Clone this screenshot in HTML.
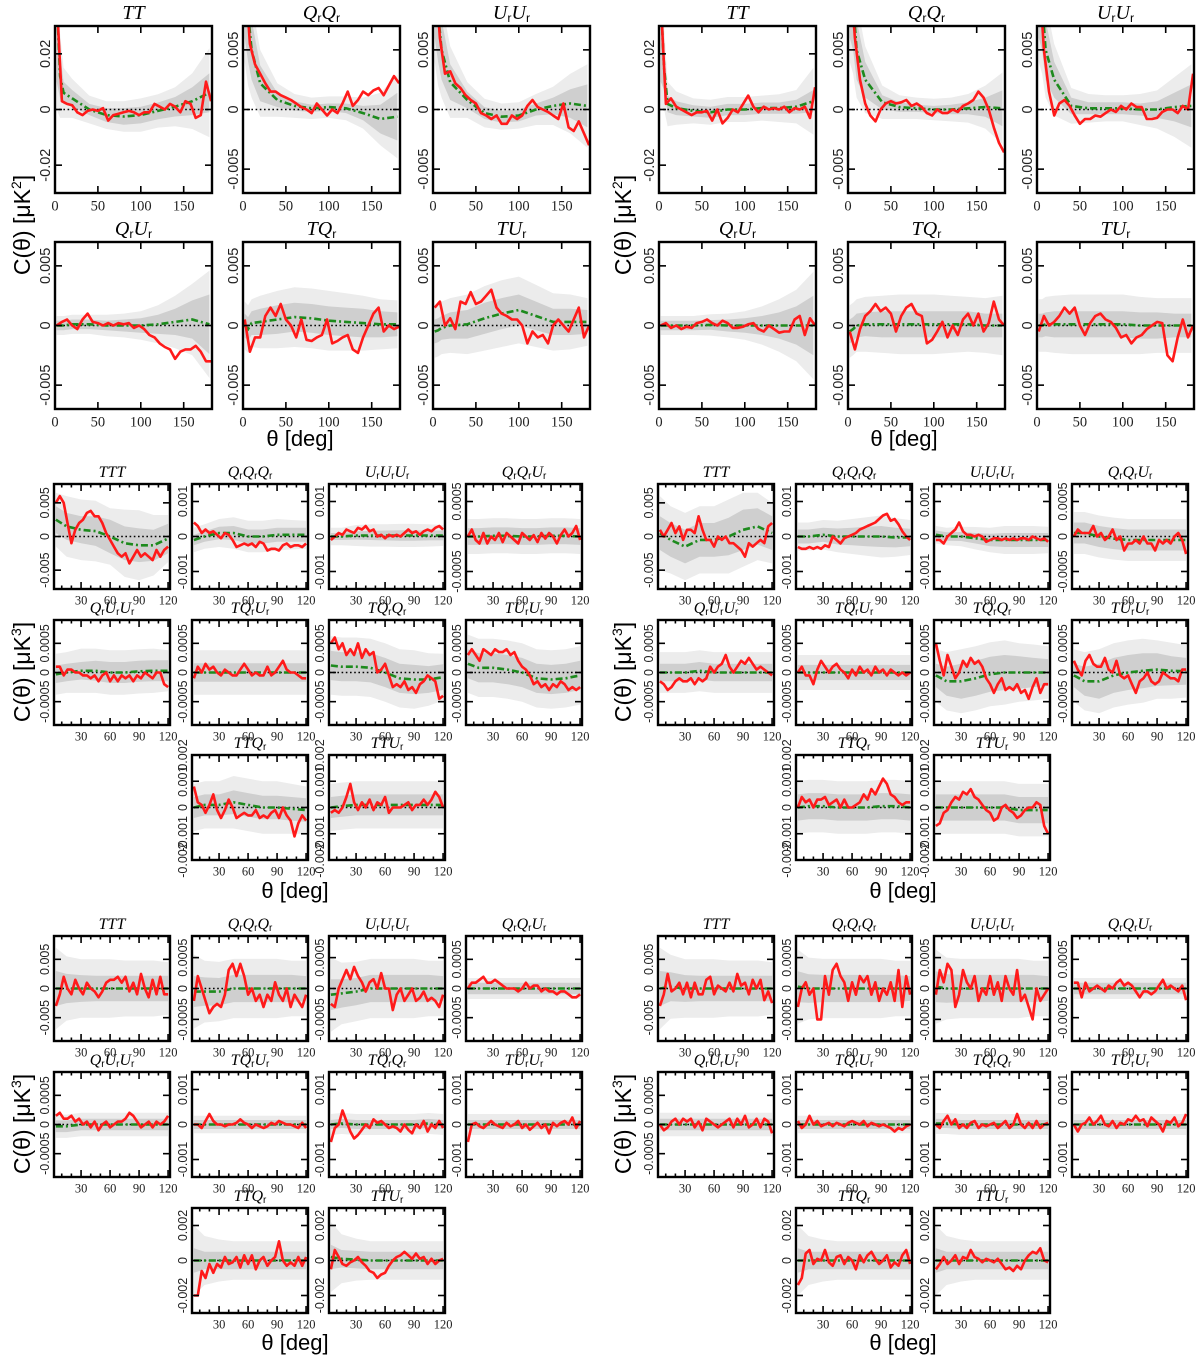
<!DOCTYPE html>
<html><head><meta charset="utf-8"><title>C(theta) correlation panels</title>
<style>
html,body{margin:0;padding:0;background:#fff;}
svg{display:block;}
</style></head>
<body>
<svg id="fig" width="1200" height="1362" viewBox="0 0 1200 1362" xmlns="http://www.w3.org/2000/svg">
<defs id="defs"></defs>
<text x="0" y="0" transform="translate(30,225) rotate(-90)" text-anchor="middle" font-family="Liberation Sans, sans-serif" font-size="23">C(θ) [μK<tspan font-size="14" dy="-9">2</tspan><tspan dy="9">]</tspan></text>
<text x="0" y="0" transform="translate(631,225) rotate(-90)" text-anchor="middle" font-family="Liberation Sans, sans-serif" font-size="23">C(θ) [μK<tspan font-size="14" dy="-9">2</tspan><tspan dy="9">]</tspan></text>
<text x="0" y="0" transform="translate(30,672) rotate(-90)" text-anchor="middle" font-family="Liberation Sans, sans-serif" font-size="23">C(θ) [μK<tspan font-size="14" dy="-9">3</tspan><tspan dy="9">]</tspan></text>
<text x="0" y="0" transform="translate(631,672) rotate(-90)" text-anchor="middle" font-family="Liberation Sans, sans-serif" font-size="23">C(θ) [μK<tspan font-size="14" dy="-9">3</tspan><tspan dy="9">]</tspan></text>
<text x="0" y="0" transform="translate(30,1124) rotate(-90)" text-anchor="middle" font-family="Liberation Sans, sans-serif" font-size="23">C(θ) [μK<tspan font-size="14" dy="-9">3</tspan><tspan dy="9">]</tspan></text>
<text x="0" y="0" transform="translate(631,1124) rotate(-90)" text-anchor="middle" font-family="Liberation Sans, sans-serif" font-size="23">C(θ) [μK<tspan font-size="14" dy="-9">3</tspan><tspan dy="9">]</tspan></text>
<text x="300" y="446" text-anchor="middle" font-family="Liberation Sans, sans-serif" font-size="22">θ [deg]</text>
<text x="904" y="446" text-anchor="middle" font-family="Liberation Sans, sans-serif" font-size="22">θ [deg]</text>
<text x="295" y="898" text-anchor="middle" font-family="Liberation Sans, sans-serif" font-size="22">θ [deg]</text>
<text x="903" y="898" text-anchor="middle" font-family="Liberation Sans, sans-serif" font-size="22">θ [deg]</text>
<text x="295" y="1350" text-anchor="middle" font-family="Liberation Sans, sans-serif" font-size="22">θ [deg]</text>
<text x="903" y="1350" text-anchor="middle" font-family="Liberation Sans, sans-serif" font-size="22">θ [deg]</text>
</svg>
<script>
// ---- angle grids (degrees) ----
const thetaTop = [2,8,14,20,26,32,38,44,50,56,62,68,74,80,86,92,98,104,110,116,122,128,134,140,146,152,158,164,170,176,182];
const thetaTopC = [2,6,10,20,40,60,80,100,120,140,160,180];
const thetaMid = [4,8,12,16,20,24,28,32,36,40,44,48,52,56,60,64,68,72,76,80,84,88,92,96,100,104,108,112,116,120];
const thetaMidC = [4,15,30,45,60,75,90,105,120];

// ---- TOP LEFT (units 1e-3) ----
const TL_TT_r = [40,3,2,1.5,-1,-2,-0.5,0,-0.5,0.5,-4,-2,-1.5,-1,-0.5,-1,-2,-1,-1,2,1,0,2,1,-1,3,2,-3,-2,10,3];
const TL_TT_g = [40,12,6,4,0,-2,-2.5,-2,-0.5,1,3,6];
const TL_TT_s1 = [30,8,4,3,2,2.5,3,3,3,3.5,5,7];
const TL_TT_s2 = [40,15,9,7,5,5,5.5,6,6,7,10,16];
const TL_QQ_r = [12,5.5,3.8,3,2.2,1.5,1.5,1.2,1,0.8,0.5,0.2,0,-0.3,0.5,0,-0.5,0,-0.3,0.5,1.5,0.3,0.8,1.5,1.2,1.6,1.8,1.2,2,2.8,2.2];
const TL_QQ_g = [12,8,5,2.2,0.8,0.3,0.1,0.2,0.1,-0.3,-0.8,-0.6];
const TL_QQ_s1 = [6,4,2.5,1.5,0.6,0.4,0.3,0.3,0.4,0.6,1.2,2];
const TL_QQ_s2 = [8,6,4,2.8,1.4,1,0.9,0.9,1,1.3,2.2,3.5];
const TL_UU_r = [12,6,3,3.2,2.2,1.8,1.2,0.8,0.5,-0.3,-0.5,-0.8,-0.5,-1.2,-1.2,-0.5,-0.8,-0.5,0.3,0.8,0.2,0,-0.2,-0.5,-0.8,0.5,-1.5,-1.8,-1,-2,-3];
const TL_UU_g = [12,8,5,2.3,0.8,-0.3,-0.6,-0.5,0,0.3,0.5,0.3];
const TL_UU_s1 = [6,4,2.5,1.5,0.7,0.5,0.5,0.5,0.5,0.7,1.2,1.8];
const TL_UU_s2 = [8,6,4,3,1.5,1.2,1.1,1.1,1.3,1.6,2.5,3.5];
const TL_QU_r = [0,0.3,0.5,0,-0.3,0.5,1,0.3,0.2,0,0.2,0,0.2,0.1,0.2,-0.2,0,-0.3,-0.8,-1,-1.5,-1.8,-2,-2.8,-2.2,-2,-2,-1.7,-2.2,-3,-3];
const TL_QU_g = [0,0,0,0.1,0.1,0,0,0,0.1,0.3,0.5,0.1];
const TL_QU_s1 = [0.4,0.4,0.4,0.4,0.4,0.4,0.5,0.6,0.8,1.1,1.6,2.5];
const TL_QU_s2 = [0.8,0.8,0.8,0.8,0.8,0.9,1,1.2,1.6,2.2,3,4.5];
const TL_TQ_r = [0.5,-2.2,-1,-1,0.8,1.5,0.8,1.8,0.5,0,-1,0.5,-1.2,-1.3,-1,-0.8,0.5,-1.5,-1.3,-1,-0.8,-2,-2.3,-1,0,1,1.5,-0.5,0,-0.3,-0.1];
const TL_TQ_g = [0,-0.3,0.2,0.3,0.5,0.7,0.6,0.4,0.3,0.2,0.1,0.1];
const TL_TQ_s1 = [1,1,1,1.1,1.2,1.2,1.2,1.2,1.2,1.2,1.1,1];
const TL_TQ_s2 = [2,2,2,2.2,2.4,2.5,2.5,2.5,2.4,2.3,2.1,2];
const TL_TU_r = [1.5,2,0,0.6,-0.3,2,1.8,2.8,1.8,2,2.5,3,1.5,1,0.8,0.5,0.5,0,-1.5,-0.5,-1,-0.8,-1.5,0,0.5,0,-0.5,0.5,1.5,-1,0];
const TL_TU_g = [-0.5,-0.4,-0.2,0,0.1,0.6,1,1.3,0.8,0.3,0.3,0.3];
const TL_TU_s1 = [1,1,1,1.1,1.2,1.3,1.3,1.3,1.2,1.1,1.1,1];
const TL_TU_s2 = [2.2,2.2,2.2,2.3,2.5,2.7,2.8,2.8,2.6,2.4,2.3,2];

// ---- TOP RIGHT (units 1e-3) ----
const TR_TT_r = [40,2,4,1,0,-1,-2,-1,-1,-0.5,-4,0,-5,-3,0,-1,2,5,1,-1,1,0,0.5,0,1,-1,0.5,0,1,-3,8];
const TR_TT_g = [40,15,2,0.5,-0.5,-1,0,0,0.5,0.5,1,3];
const TR_TT_s1 = [30,8,3,2.5,2,2,2,2,2,2,2.5,4];
const TR_TT_s2 = [40,15,8,6,4.5,4.5,4.5,4.5,4.5,5,6,12];
const TR_QQ_r = [12,6,2.5,0.5,-0.5,-1,0,0.5,0.7,0.5,0.6,0.8,0.3,0.5,0.2,-0.3,-0.5,0,-0.3,-0.3,0,-0.2,0.3,0.5,0.8,1.5,1,0,-1.5,-2.8,-3.6];
const TR_QQ_g = [12,9,5,2.5,0.6,0.2,0.1,0,0,0.1,0.2,0.1];
const TR_QQ_s1 = [6,4,2.5,1.5,0.6,0.4,0.3,0.3,0.4,0.5,0.8,1.5];
const TR_QQ_s2 = [8,6,4,2.8,1.4,1,0.9,0.9,1,1.2,1.8,3];
const TR_UU_r = [12,5,1.5,-0.5,0.5,0.8,0.3,-0.5,-1.2,-0.8,-0.8,-0.5,-0.6,-0.3,0,-0.2,0.3,0,0.5,0.2,0.2,-0.8,-0.8,-0.7,-0.2,0,0,-0.3,0.3,0,3];
const TR_UU_g = [12,9,5,2.5,0.3,0.1,0.1,0.1,0,0,0.2,0.3];
const TR_UU_s1 = [6,4,2.5,1.5,0.7,0.5,0.5,0.5,0.5,0.7,1.2,1.8];
const TR_UU_s2 = [8,6,4,3,1.5,1.2,1.1,1.1,1.3,1.6,2.5,3.5];
const TR_QU_r = [0,0.2,-0.2,0,-0.3,-0.1,-0.2,0.2,0.3,0.5,0.2,0,0.4,0.2,-0.2,-0.2,-0.1,0.1,0.2,-0.3,-0.5,0,-0.3,-0.6,-0.5,-0.5,0.5,0.8,-0.8,0.6,0];
const TR_QU_g = [0,0,0,0,0,0.05,0,0,0,0,0,0];
const TR_QU_s1 = [0.4,0.4,0.4,0.4,0.4,0.4,0.5,0.6,0.8,1.1,1.6,2.5];
const TR_QU_s2 = [0.8,0.8,0.8,0.8,0.8,0.9,1,1.2,1.6,2.2,3,4.5];
const TR_TQ_r = [-0.5,-2,-0.3,0.8,1.2,1.8,1.2,1.5,1,-0.5,0.8,1.5,1.8,1,0.8,-1.5,-1.2,-0.5,0.3,-1,0,-0.8,0.5,1,0,1,-0.5,0.2,2,0.5,0];
const TR_TQ_g = [-0.5,-0.3,0,0.1,0.1,0.1,0.1,0.1,0.1,0.1,0,0];
const TR_TQ_s1 = [1,1,1,1,1.1,1.1,1.1,1.1,1.1,1.1,1,1];
const TR_TQ_s2 = [2.2,2.2,2.2,2.3,2.4,2.5,2.5,2.5,2.4,2.3,2.3,2.5];
const TR_TU_r = [-0.5,0.8,0,0.3,0.8,1.5,1,1.5,0,-0.8,0.2,0.8,1,0.5,0.3,-0.2,-1,-0.8,-1.5,-1,-0.8,-0.3,0,0.3,0.2,-2.5,-3,-1,0.5,-1,0];
const TR_TU_g = [0,0,0.1,0.1,0.1,0.1,0.1,0.1,0,0,0,0];
const TR_TU_s1 = [1,1,1,1.1,1.1,1.1,1.1,1.1,1.1,1.1,1,1];
const TR_TU_s2 = [2.2,2.2,2.3,2.4,2.5,2.5,2.5,2.5,2.4,2.3,2.3,2.3];

// ---- MIDDLE LEFT (TTT units 1e-3; others 1e-4) ----
const ML_TTT_r = [5,6,5,2,-1,1,2,2.5,3.5,3.8,3,3,2,0.5,-0.5,-1.5,-2.5,-3,-2.5,-4,-3,-2,-3,-2.5,-3,-3.5,-2,-3,-2,-1.5];
const ML_TTT_g = [2.5,1.5,1,0.8,0,-1,-1.3,-1.3,-0.3];
const ML_TTT_s1 = [2,2,2,2.2,2.5,2.5,2.5,2.3,2.2];
const ML_TTT_s2 = [4,4.5,4.5,4.5,4.2,5,5.2,4.5,3.5];
const ML_QQQ_r = [4,3,1,2,1,1.5,0.5,-0.5,1,0.5,-1,-3,-2.5,-2,-2.5,-2,-3,-1.5,-2,-4,-3.5,-3.5,-4,-2.5,-2,-3,-2.5,-2.5,-3,-2];
const ML_QQQ_g = [-1,0,1,1,0,0,0.5,0.5,0.5];
const ML_QQQ_s1 = [1.5,1.5,1.8,2,2,2,2,2,2];
const ML_QQQ_s2 = [3.5,3.5,4,4.5,4.5,4.5,4.5,4.2,4];
const ML_UUU_r = [-1,0,1,0.5,2,1.5,1,2.5,2,3,1.5,2,0,0.5,-0.5,0.5,0,0.5,0,1,2,1,1.5,0.5,1.5,2,1.5,2.5,3,2];
const ML_UUU_g = [0,0,0.3,0.3,0.3,0.3,0.3,0.3,0.3];
const ML_UUU_s1 = [1,1,1.2,1.3,1.4,1.5,1.5,1.4,1.4];
const ML_UUU_s2 = [2.5,2.5,3,3.2,3.2,3.3,3.3,3.2,3];
const ML_QQU_r = [0,1,-0.5,-1,0.5,-1,0,-0.5,0.5,-0.8,0.5,0,-0.5,-1,0.5,0,-0.5,0.2,-0.8,0.5,-0.3,0.5,0,-1,0.2,1,0,0.5,1.5,-0.5];
const ML_QQU_g = [0,0,0.1,0.1,0,0,0.1,0.1,0];
const ML_QQU_s1 = [1.2,1.2,1.2,1.2,1.2,1.2,1.2,1.2,1.2];
const ML_QQU_s2 = [2.5,2.5,2.5,2.5,2.5,2.5,2.5,2.5,2.5];
const ML_QUU_r = [1,1,-0.5,0.5,0.5,0,0,-0.5,-0.5,-1,-0.5,-1.5,-0.5,0,-1.5,-0.5,-1.5,-0.5,-1,-0.5,-1.5,-0.5,-1,0,-0.5,-1,0,0,-2,-2.5];
const ML_QUU_g = [-0.3,0,0.3,0.3,0,0,0.2,0.3,0.3];
const ML_QUU_s1 = [1.5,1.5,1.5,1.7,1.8,1.8,1.8,1.8,1.8];
const ML_QUU_s2 = [3.5,3.5,3.8,3.8,3.8,3.8,3.8,3.8,3.5];
const ML_TQU_r = [-1,1,0,1.5,0.5,1,0,-0.5,0.5,0,-0.5,-0.5,0.5,1.5,0.5,-0.5,0,-0.5,-0.5,1,-0.5,0,1,2,0.5,0,0,-0.5,-1,-1];
const ML_TQU_g = [0,0,0,0,0,0,0,0,0];
const ML_TQU_s1 = [1.6,1.6,1.6,1.6,1.6,1.6,1.6,1.6,1.6];
const ML_TQU_s2 = [3.8,3.8,3.8,3.8,3.8,3.8,3.8,3.8,3.8];
const ML_TQQ_r = [5,6,4,5,3,4,3,5,2.5,4,3,3.5,0,0.5,1.5,-0.5,-2.5,-2,-2.5,-1.5,-3,-2.5,-3.5,-2,-1.5,-0.5,-1,-1.5,-4.5,-4];
const ML_TQQ_g = [1.2,1,1,0.8,0,-1,-1.2,-1.2,-0.8];
const ML_TQQ_s1 = [2.5,2.5,2.5,2.5,2.5,2.5,2.5,2.3,2.2];
const ML_TQQ_s2 = [5,5,5,5,5,5,5,4.5,4];
const ML_TUU_r = [3,4,3,2,4,3.5,3,4,3.5,3.5,4,3,3.5,2,1,0.5,-0.5,-2,-1.5,-2.5,-2,-3,-2,-2.5,-1.5,-2,-3,-2.5,-3,-2.5];
const ML_TUU_g = [1.5,0.8,0.8,0.5,0,-1,-1.2,-1,-0.5];
const ML_TUU_s1 = [2.5,2.5,2.5,2.5,2.5,2.5,2.5,2.5,2.5];
const ML_TUU_s2 = [5,5,5,5,5,5,5,5,5];
const ML_TTQ_r = [8,2,1,-2,1,5,-1,-4,-1,3,0,-4,-3,-2,-3,-3,-1,-4,-3,-4,-2,-1,-4,0,-3,-5,-11,-6,-3,-5];
const ML_TTQ_g = [0,1,1,2,1,0,0,-0.5,-1];
const ML_TTQ_s1 = [4,4,4,4.5,4.5,4.5,4.5,4.5,4.5];
const ML_TTQ_s2 = [9,9,9,10,10,10,10,9.5,9];
const ML_TTU_r = [-2,-1,-2,0,4,9,2,-1,2,0,3,-1,2,1,4,-2,0,0,0,1,2,-1,1,1,3,1,3,6,4,0];
const ML_TTU_g = [0,0.5,1,1,1,1,1,1,1];
const ML_TTU_s1 = [4,4,4,4,4,4,4,4,4];
const ML_TTU_s2 = [9,9,9,9,9,9,9,9,9];

// ---- MIDDLE RIGHT ----
const MR_TTT_r = [1,0,1,2,0.5,1.5,-0.5,1,1,0.5,3,1,-0.5,-0.5,-1.5,0,-0.5,0,-1,-1,-1.5,-2,-3,-1,-1.5,-1,-0.5,-1,1.5,2];
const MR_TTT_g = [0.5,-0.5,-1.5,-0.5,-0.5,0,1,1.5,0.5];
const MR_TTT_s1 = [2.5,2.5,2.5,2.5,2.5,2.8,3,2.7,2.5];
const MR_TTT_s2 = [5.5,5,5,5,5,5.5,5.5,5,4.5];
const MR_QQQ_r = [-3,-3.5,-3.5,-3,-3.5,-3,-3.5,-2.5,-3,0,-1,-2,-0.5,0,0.5,1,2,2.5,3,3.5,4,5,6,6.5,4.5,5,3.5,1.5,0,-1];
const MR_QQQ_g = [0,0,0.5,0,0,0,0,-0.3,-0.3];
const MR_QQQ_s1 = [2,2,2,2.3,2.5,2.8,3,2.8,2.5];
const MR_QQQ_s2 = [4,4,4.2,4.5,5,5.5,6,5.5,5];
const MR_UUU_r = [-1,-1,-2,0,1,2,4,1.5,0.5,0.5,0,0.5,0,-1.5,-1,-0.5,-0.5,-1,-0.5,-1,-0.5,-1,-0.5,-0.5,-1,0,-0.5,-1,-0.5,-1.5];
const MR_UUU_g = [0.5,0,0,-0.5,-1,-1,-1,-1,-1];
const MR_UUU_s1 = [1.2,1.2,1.3,1.5,1.8,2,2,2,2];
const MR_UUU_s2 = [2.5,2.5,2.8,3.2,3.5,4,4,4,3.8];
const MR_QQU_r = [0,1,0.5,0.5,0.5,1.5,0,0.5,-0.5,0,1,-0.5,0,-2,-1,-1,-0.5,-1,0,-1,-1,-2,-0.5,-1,-0.5,-1,0,0.5,-0.5,-2.5];
const MR_QQU_g = [0.5,0.5,0,-0.3,-0.5,-0.5,-0.5,-0.5,-0.5];
const MR_QQU_s1 = [1.5,1.5,1.5,1.5,1.5,1.5,1.5,1.5,1.5];
const MR_QQU_s2 = [3,3,3,3,3,3,3,3,3];
const MR_QUU_r = [-1.5,-2,-3,-2.5,-1.5,-1,-1.5,-1.5,-1,-2,-1,-1.5,-1,1,0,1,1.5,3,1,0,1,2,1.5,2.5,1.5,0.5,1,0.5,0,-0.5];
const MR_QUU_g = [0,0,0,0.3,0,0,0,0,0];
const MR_QUU_s1 = [1.5,1.5,1.5,1.5,1.5,1.5,1.5,1.5,1.5];
const MR_QUU_s2 = [3.5,3.5,3.5,3.5,3.5,3.5,3.5,3.5,3.5];
const MR_TQU_r = [0,1,-0.5,-0.5,-2,0.5,2,1,0,1,1.5,0.5,0,-1,0.5,-0.5,1,0,0.5,-0.5,1,0,0.5,-0.5,0.5,0,-0.5,0,-0.5,0];
const MR_TQU_g = [0,0,0,0,0,0,0,0,0];
const MR_TQU_s1 = [1.3,1.3,1.3,1.3,1.3,1.3,1.3,1.3,1.3];
const MR_TQU_s2 = [3,3,3,3,3,3,3,3,3];
const MR_TQQ_r = [5,2,-0.5,3,1,-1,0,2,1,2.5,1.5,2,1,-1,-2,-3.5,-2,-1,-3,-2.5,-3,-2,-3.5,-3,-4.5,-2.5,-1,-3.5,-2,-2];
const MR_TQQ_g = [-0.5,-1.5,-1.5,-1,-0.3,0,0,0,0];
const MR_TQQ_s1 = [2,2.5,3,3,3,3,2.8,2.5,2.3];
const MR_TQQ_s2 = [4.5,5,5.5,5.5,5.5,5.5,5,4.8,4.5];
const MR_TUU_r = [2,0.5,-0.5,2,3,1.5,1,1,2.5,0.5,0,2,-0.5,-1,-0.5,-2,-3.5,-1.5,-1,0,-1.5,-2,-1.5,0,-0.5,-1,-1,-1.5,0.5,0.5];
const MR_TUU_g = [-0.5,-1.5,-1.5,-0.5,0,0.3,0.5,0.3,0.2];
const MR_TUU_s1 = [2,2.5,3,3,3,3,2.8,2.5,2.3];
const MR_TUU_s2 = [4.5,5,5.5,5.5,5.5,5.5,5,4.8,4.5];
const MR_TTQ_r = [0,4,2,3,0,3,3,4,1,2,3,0,3,0,0,1,2,5,3,7,5,8,11,9,5,4,2,1,2,2];
const MR_TTQ_g = [0,0.5,0.5,0,0,0,0.5,0.5,0];
const MR_TTQ_s1 = [5,5,5,5,5,5,5,5,5];
const MR_TTQ_s2 = [10,10,10,10,10,10,10,10,10];
const MR_TTU_r = [-7,-6,-2,-1,2,4,3,6,5,7,4,3,1,-1,-2,-5,-4,0,1,-1,-2,-4,-3,-1,0,0,2,1,-7,-10];
const MR_TTU_g = [0,0,0,0,0,0,-1,-1,-1];
const MR_TTU_s1 = [5,5,5,5,5,5,5,5,5];
const MR_TTU_s2 = [10,10,10,10,10,10,10,10,10];

// ---- BOTTOM LEFT ----
const BL_TTT_r = [-3,-1,2,0,-1,1.5,0,-1,1,0,-0.5,-1.5,-0.5,1,1.5,1.5,2,1,2,-0.5,1,-1,2.5,0,-1.5,1.5,-1,2,-1,-1];
const BL_TTT_g = [0,0,0,0,0,0,0,0,0];
const BL_TTT_s1 = [3,2.5,2.3,2.2,2.2,2.2,2.2,2.2,2.2];
const BL_TTT_s2 = [7,5.5,5,5,5,4.8,4.8,4.8,4.5];
const BL_QQQ_r = [-2,2,0,-2,-4,-3,-2.5,-3,-1,3,4,2,4,2,-1,0,-2,-1,-3,-1,-2,1,-1,-2,0,-3,-1,-2,-3,-1];
const BL_QQQ_g = [-0.5,-0.5,-0.5,0,0,0,0,0,0];
const BL_QQQ_s1 = [2.5,2.3,2.2,2.2,2.2,2.2,2.2,2.2,2];
const BL_QQQ_s2 = [6,5,4.8,4.8,4.8,4.8,4.8,4.5,4.5];
const BL_UUU_r = [-2.5,-3,0,1.5,3,1.5,3.5,2,1,-0.5,1,1.5,0,2.5,0,0,-3.5,-1,0,-2,-1,0,-2,-1.5,-0.5,-2,-1.5,-2,-3,-1];
const BL_UUU_g = [-1,-0.8,-0.5,0,0,0,0,0,0];
const BL_UUU_s1 = [2.5,2.3,2.2,2.2,2.2,2.2,2.2,2.2,2];
const BL_UUU_s2 = [6,5,4.8,4.8,4.8,4.8,4.8,4.5,4.5];
const BL_QQU_r = [0,1,1,1.5,2,1,1,1.5,1,0.5,0,0,0,-0.5,0,1,0,0.5,0.5,-0.5,0,-0.5,-0.5,-1,-0.5,-0.5,-1,-1.5,-1.5,-1];
const BL_QQU_g = [0,0,0,0,0,0,0,0,0];
const BL_QQU_s1 = [1,1,1,1,1,1,1,1,1];
const BL_QQU_s2 = [1.8,1.8,1.8,1.8,1.8,1.8,1.8,1.8,1.8];
const BL_QUU_r = [1.5,2,1,1,1.5,0.5,1,0,0.5,-0.5,0.5,-1,0,0.5,-0.5,0,0.5,0.5,1,2,1.5,0.5,-0.5,0,0.5,-0.5,0.5,0,0.5,1.5];
const BL_QUU_g = [-0.3,-0.3,0,0,0,0,0,0,0];
const BL_QUU_s1 = [1,1,1,1,1,1,1,1,1];
const BL_QUU_s2 = [2,2,2,2,2,2,2,2,2];
const BL_TQU_r = [0,0,-1,1,3,1,0,0,-0.5,0,0,0.5,1.5,0.5,0,-1,0,-0.5,-1,-0.5,0.5,0,1,0.5,0,0,-0.5,-1,0.5,-1];
const BL_TQU_g = [0,0,0,0,0,0,0,0,0];
const BL_TQU_s1 = [1.3,1.3,1.3,1.3,1.3,1.3,1.3,1.3,1.3];
const BL_TQU_s2 = [2.5,2.5,2.5,2.5,2.5,2.5,2.5,2.5,2.5];
const BL_TQQ_r = [-5,-1,0,4,1,-2,-4,-3,-1.5,0,-1,1.5,0.5,1,0,-1,-0.5,-1,-2,0,-1.5,-2.5,0,-1,1,-2,0,-1,1,-1];
const BL_TQQ_g = [0,0.3,0,0,0,0,0,0.3,0];
const BL_TQQ_s1 = [1.3,1.3,1.3,1.3,1.3,1.3,1.3,1.3,1.3];
const BL_TQQ_s2 = [3,3,3,3,3,3,3,3,3];
const BL_TUU_r = [-5,0,0.5,-0.5,-1,0,1,0,-0.5,-1,0.5,-0.5,0,1,-1,0,-1.5,-0.5,0.5,-1,0,-2.5,0.5,-0.5,0.5,1,0,2,-1,1];
const BL_TUU_g = [0,0,0,0,0,0,0,0,0];
const BL_TUU_s1 = [1.3,1.3,1.3,1.3,1.3,1.3,1.3,1.3,1.3];
const BL_TUU_s2 = [3,3,3,3,3,3,3,3,3];
const BL_TTQ_r = [-20,-20,-6,-10,-2,-7,-2,-4,2,-2,-1,2,-4,3,-2,3,-5,0,2,-3,0,2,11,0,-3,-1,-3,2,-3,2];
const BL_TTQ_g = [0,0,0,0,0,0,0,0,0];
const BL_TTQ_s1 = [7,5,5,5,5,5,5,5,5];
const BL_TTQ_s2 = [20,14,12,11,11,11,11,11,11];
const BL_TTU_r = [-5,6,2,-2,-3,-1,0,2,-1,-3,-6,-7,-10,-8,-7,-3,0,2,3,5,3,1,4,1,2,-2,1,-2,0,1];
const BL_TTU_g = [2,1,0.5,0,0,0,0,0,0];
const BL_TTU_s1 = [7,5,5,5,5,5,5,5,5];
const BL_TTU_s2 = [20,14,12,11,11,11,11,11,11];

// ---- BOTTOM RIGHT ----
const BR_TTT_r = [-3,-1,2.5,-0.5,0,1,-1,1,-1.5,1,-1,-1,1.5,2,-1,0.5,0,-0.5,1,-0.5,2.5,0.5,1,-1,1.5,0,1.5,-2,-0.5,-2.5];
const BR_TTT_g = [0,0.3,0,0,0,0,0,0,0];
const BR_TTT_s1 = [3,2.5,2.3,2.2,2.2,2.2,2.2,2.2,2.2];
const BR_TTT_s2 = [7,5.5,5,5,5,4.8,4.8,4.8,4.5];
const BR_QQQ_r = [-3,0,1,-1,0,-5,-5,2,-1,3,4,2,1,-2,1,-1,2,1,2,-1,1,-2,0,-1,1,-2,3,-3,2,-1];
const BR_QQQ_g = [0.3,0,0,0,0,0,0,0,0];
const BR_QQQ_s1 = [2.5,2.3,2.2,2.2,2.2,2.2,2.2,2.2,2];
const BR_QQQ_s2 = [6,5,4.8,4.8,4.8,4.8,4.8,4.5,4.5];
const BR_UUU_r = [-1,3,1,4,3,-3,-1,3,1,0,2,-2,0,-1,2,-1,1,-2,2,0,-1,3,-2,-1,-3,-5,0,-2,-1,0];
const BR_UUU_g = [0.3,0,0,0,0,0,0,0,0];
const BR_UUU_s1 = [2.5,2.3,2.2,2.2,2.2,2.2,2.2,2.2,2];
const BR_UUU_s2 = [6,5,4.8,4.8,4.8,4.8,4.8,4.5,4.5];
const BR_QQU_r = [1,1,-1.5,1,-0.5,0,0.5,0,-0.5,0.5,0,1,1.5,0.5,1,0.5,-0.5,-1.5,-0.5,-0.5,-1,-0.5,0.5,1.5,0,0.5,0,-0.5,0.5,-2];
const BR_QQU_g = [0,0,0,0,0,0,0,0,0];
const BR_QQU_s1 = [1,1,1,1,1,1,1,1,1];
const BR_QQU_s2 = [1.8,1.8,1.8,1.8,1.8,1.8,1.8,1.8,1.8];
const BR_QUU_r = [0,-1,-0.5,0.5,1,0,1,0.5,1,-0.5,0.5,-1,1,0.5,0,-0.5,0,0.5,1,-0.5,1,0,1.5,-0.5,0,1,-0.5,1,0.5,-1.5];
const BR_QUU_g = [0,0,0,0,0,0,0,0,0];
const BR_QUU_s1 = [1,1,1,1,1,1,1,1,1];
const BR_QUU_s2 = [2,2,2,2,2,2,2,2,2];
const BR_TQU_r = [1,-1,0,2.5,0,1,-0.5,0,0.5,-0.5,0.5,0,-0.5,0.5,1,0.5,0,1,-0.5,0.5,0,-0.5,0,-0.5,-1,-2,-1,-1.5,-0.5,0];
const BR_TQU_g = [0,0,0,0,0,0,0,0,0];
const BR_TQU_s1 = [1.3,1.3,1.3,1.3,1.3,1.3,1.3,1.3,1.3];
const BR_TQU_s2 = [2.5,2.5,2.5,2.5,2.5,2.5,2.5,2.5,2.5];
const BR_TQQ_r = [0,-1,1,2.5,0,1.5,-1,0,-1,0.5,1,-1,0,-0.5,0,0.5,-1,0,1,-1,0,3,0,-1,0.5,-1,1,-1,0,0.5];
const BR_TQQ_g = [0.3,0.3,0,0,0,0,0,0,0];
const BR_TQQ_s1 = [1.3,1.3,1.3,1.3,1.3,1.3,1.3,1.3,1.3];
const BR_TQQ_s2 = [3,3,3,3,3,3,3,3,3];
const BR_TUU_r = [0,-2,0,0.5,2,0,1,2.5,0,-0.5,1,-1,0.5,0,1.5,1,2.5,1,1.5,-0.5,2,1,0,-2,1,0.5,2,-0.5,0.5,3];
const BR_TUU_g = [0,0,0,0,0,0,0,0,0];
const BR_TUU_s1 = [1.3,1.3,1.3,1.3,1.3,1.3,1.3,1.3,1.3];
const BR_TUU_s2 = [3,3,3,3,3,3,3,3,3];
const BR_TTQ_r = [-14,-10,4,6,-2,1,0,6,-1,-3,2,3,-2,2,0,-5,3,-1,3,5,1,-2,0,3,-4,-1,-3,3,6,-2];
const BR_TTQ_g = [0,0,0,0,0,0,0,0,0];
const BR_TTQ_s1 = [7,5,5,5,5,5,5,5,5];
const BR_TTQ_s2 = [20,14,12,11,11,11,11,11,11];
const BR_TTU_r = [-5,-2,2,-2,0,3,-2,2,1,6,2,1,-1,1,0,-1,1,-2,-5,-4,-6,-3,-5,0,3,5,4,7,0,-1];
const BR_TTU_g = [0,0,0,0,0,0,0,0,0];
const BR_TTU_s1 = [7,5,5,5,5,5,5,5,5];
const BR_TTU_s2 = [20,14,12,11,11,11,11,11,11];

// ---- axis kinds ----
const K = {
  top2:{ymax:0.03,ticks:[0.02,0,-0.02],unit:1e-3},
  top7:{ymax:0.007,ticks:[0.005,0,-0.005],unit:1e-3},
  mTTT:{ymax:0.0078,ticks:[0.005,0,-0.005],unit:1e-3},
  m15:{ymax:0.0015,ticks:[0.001,0,-0.001],unit:1e-4},
  m75:{ymax:0.00075,ticks:[0.0005,0,-0.0005],unit:1e-4},
  m9:{ymax:0.0009,ticks:[0.0005,0,-0.0005],unit:1e-4},
  m20:{ymax:0.002,ticks:[0.002,0.001,0,-0.001,-0.002],unit:1e-4},
  bTTT:{ymax:0.009,ticks:[0.005,0,-0.005],unit:1e-3},
  b85:{ymax:0.00085,ticks:[0.0005,0,-0.0005],unit:1e-4},
  b15:{ymax:0.0015,ticks:[0.001,0,-0.001],unit:1e-4},
  b30:{ymax:0.003,ticks:[0.002,0,-0.002],unit:1e-4}
};

const NS='http://www.w3.org/2000/svg';
const svg=document.getElementById('fig');
const defs=document.getElementById('defs');
function mk(tag,attrs,parent){const e=document.createElementNS(NS,tag);for(const k in attrs)e.setAttribute(k,attrs[k]);(parent||svg).appendChild(e);return e;}

function addTitle(g,str,cx,y,fs){
  const t=mk('text',{x:cx,y:y,'text-anchor':'middle','font-family':'Liberation Serif, serif','font-size':fs},g);
  
  
  for(const ch of str){
    if(ch==='r'){
      const s=mk('tspan',{'font-size':fs*0.62,'baseline-shift':'-22%','font-family':'Liberation Sans, sans-serif'},t);
      s.textContent='r';
    } else {
      const s=mk('tspan',{'font-style':'italic'},t);
      s.textContent=ch;
    }
  }
}

let pid=0;
function panel(p){
  pid++;
  const g=mk('g',{});
  
  
  const k=p.k;
  const X=t=>p.x+(t-p.xd[0])/(p.xd[1]-p.xd[0])*p.w;
  const Y=v=>p.y+(k.ymax-v*k.unit)/(2*k.ymax)*p.h;
  const YR=v=>p.y+(k.ymax-v)/(2*k.ymax)*p.h;
  const cid='clip'+pid;
  const cp=mk('clipPath',{id:cid},defs);
  mk('rect',{x:p.x,y:p.y,width:p.w,height:p.h},cp);
  const inner=mk('g',{'clip-path':'url(#'+cid+')'},g);
  const bandCols=['#ececec','#cfcfcf'];
  [p.s2,p.s1].forEach((s,bi)=>{
    const up=p.thC.map((t,i)=>X(t).toFixed(1)+','+Y(p.gr[i]+s[i]).toFixed(1));
    const lo=p.thC.map((t,i)=>X(t).toFixed(1)+','+Y(p.gr[i]-s[i]).toFixed(1)).reverse();
    const pg=mk('polygon',{points:up.concat(lo).join(' '),fill:bandCols[bi],stroke:'none'},inner);
    
    
  });
  const zl=mk('line',{x1:p.x,x2:p.x+p.w,y1:Y(0),y2:Y(0),stroke:'#000','stroke-width':1.6,'stroke-dasharray':'1.6,2.6'},inner);
  
  
  const gl=mk('polyline',{points:p.thC.map((t,i)=>X(t).toFixed(1)+','+Y(p.gr[i]).toFixed(1)).join(' '),fill:'none',stroke:'#1d8a1d','stroke-width':2.6,'stroke-dasharray':'7,3,2,3'},inner);
  
  
  const rl=mk('polyline',{points:p.th.map((t,i)=>X(t).toFixed(1)+','+Y(p.r[i]).toFixed(1)).join(' '),fill:'none',stroke:'#ff1a1a','stroke-width':2.6,'stroke-linejoin':'round'},inner);
  
  
  const tk=mk('g',{stroke:'#000','stroke-width':1.6},g);
  p.xt.forEach(t=>{const xx=X(t);mk('line',{x1:xx,x2:xx,y1:p.y+p.h,y2:p.y+p.h-7},tk);mk('line',{x1:xx,x2:xx,y1:p.y,y2:p.y+7},tk);});
  (p.xm||[]).forEach(t=>{const xx=X(t);mk('line',{x1:xx,x2:xx,y1:p.y+p.h,y2:p.y+p.h-3.5},tk);mk('line',{x1:xx,x2:xx,y1:p.y,y2:p.y+3.5},tk);});
  k.ticks.forEach(v=>{const yy=YR(v);mk('line',{x1:p.x,x2:p.x+7,y1:yy,y2:yy},tk);mk('line',{x1:p.x+p.w,x2:p.x+p.w-7,y1:yy,y2:yy},tk);});
  const fr=mk('rect',{x:p.x,y:p.y,width:p.w,height:p.h,fill:'none',stroke:'#000','stroke-width':2.4},g);
  
  
  p.xt.forEach(t=>{
    const lb=mk('text',{x:X(t),y:p.y+p.h+p.fs+3,'text-anchor':'middle','font-family':'Liberation Serif, serif','font-size':p.fs,fill:'#222'},g);
    
    
    lb.textContent=String(t);
  });
  k.ticks.forEach(v=>{
    const yy=YR(v), xx=p.x-5;
    const lb=mk('text',{x:xx,y:yy,transform:'rotate(-90 '+xx+' '+yy+')','text-anchor':'middle','font-family':'Liberation Sans, sans-serif','font-size':p.fs,fill:'#222'},g);
    
    
    lb.textContent=String(v);
  });
  addTitle(g,p.title,p.x+p.w/2,p.y-7,p.tfs);
}

const topTitles=[['TT','QrQr','UrUr'],['QrUr','TQr','TUr']];
const topKinds=[['top2','top7','top7'],['top7','top7','top7']];
const TOPDATA={
  L:[[[TL_TT_r,TL_TT_g,TL_TT_s1,TL_TT_s2],[TL_QQ_r,TL_QQ_g,TL_QQ_s1,TL_QQ_s2],[TL_UU_r,TL_UU_g,TL_UU_s1,TL_UU_s2]],
     [[TL_QU_r,TL_QU_g,TL_QU_s1,TL_QU_s2],[TL_TQ_r,TL_TQ_g,TL_TQ_s1,TL_TQ_s2],[TL_TU_r,TL_TU_g,TL_TU_s1,TL_TU_s2]]],
  R:[[[TR_TT_r,TR_TT_g,TR_TT_s1,TR_TT_s2],[TR_QQ_r,TR_QQ_g,TR_QQ_s1,TR_QQ_s2],[TR_UU_r,TR_UU_g,TR_UU_s1,TR_UU_s2]],
     [[TR_QU_r,TR_QU_g,TR_QU_s1,TR_QU_s2],[TR_TQ_r,TR_TQ_g,TR_TQ_s1,TR_TQ_s2],[TR_TU_r,TR_TU_g,TR_TU_s1,TR_TU_s2]]]
};
const topX={L:[55,243,433],R:[659,848,1037]};
const topY=[26,242];
['L','R'].forEach(side=>{
  for(let r=0;r<2;r++)for(let c=0;c<3;c++){
    const d=TOPDATA[side][r][c];
    panel({name:'top-'+side+'-'+topTitles[r][c],x:topX[side][c],y:topY[r],w:157,h:167,xd:[0,183],
      k:K[topKinds[r][c]],th:thetaTop,thC:thetaTopC,r:d[0],gr:d[1],s1:d[2],s2:d[3],
      xt:[0,50,100,150],fs:14.5,tfs:20,title:topTitles[r][c]});
  }
});

const smallTitles=[['TTT','QrQrQr','UrUrUr','QrQrUr'],['QrUrUr','TQrUr','TQrQr','TUrUr'],[null,'TTQr','TTUr',null]];
const midKinds=[['mTTT','m15','m15','m75'],['m9','m9','m9','m9'],[null,'m20','m20',null]];
const botKinds=[['bTTT','b85','b85','m9'],['m9','b15','b15','b15'],[null,'b30','b30',null]];
const SMALLDATA={
  ML:[[[ML_TTT_r,ML_TTT_g,ML_TTT_s1,ML_TTT_s2],[ML_QQQ_r,ML_QQQ_g,ML_QQQ_s1,ML_QQQ_s2],[ML_UUU_r,ML_UUU_g,ML_UUU_s1,ML_UUU_s2],[ML_QQU_r,ML_QQU_g,ML_QQU_s1,ML_QQU_s2]],
      [[ML_QUU_r,ML_QUU_g,ML_QUU_s1,ML_QUU_s2],[ML_TQU_r,ML_TQU_g,ML_TQU_s1,ML_TQU_s2],[ML_TQQ_r,ML_TQQ_g,ML_TQQ_s1,ML_TQQ_s2],[ML_TUU_r,ML_TUU_g,ML_TUU_s1,ML_TUU_s2]],
      [null,[ML_TTQ_r,ML_TTQ_g,ML_TTQ_s1,ML_TTQ_s2],[ML_TTU_r,ML_TTU_g,ML_TTU_s1,ML_TTU_s2],null]],
  MR:[[[MR_TTT_r,MR_TTT_g,MR_TTT_s1,MR_TTT_s2],[MR_QQQ_r,MR_QQQ_g,MR_QQQ_s1,MR_QQQ_s2],[MR_UUU_r,MR_UUU_g,MR_UUU_s1,MR_UUU_s2],[MR_QQU_r,MR_QQU_g,MR_QQU_s1,MR_QQU_s2]],
      [[MR_QUU_r,MR_QUU_g,MR_QUU_s1,MR_QUU_s2],[MR_TQU_r,MR_TQU_g,MR_TQU_s1,MR_TQU_s2],[MR_TQQ_r,MR_TQQ_g,MR_TQQ_s1,MR_TQQ_s2],[MR_TUU_r,MR_TUU_g,MR_TUU_s1,MR_TUU_s2]],
      [null,[MR_TTQ_r,MR_TTQ_g,MR_TTQ_s1,MR_TTQ_s2],[MR_TTU_r,MR_TTU_g,MR_TTU_s1,MR_TTU_s2],null]],
  BL:[[[BL_TTT_r,BL_TTT_g,BL_TTT_s1,BL_TTT_s2],[BL_QQQ_r,BL_QQQ_g,BL_QQQ_s1,BL_QQQ_s2],[BL_UUU_r,BL_UUU_g,BL_UUU_s1,BL_UUU_s2],[BL_QQU_r,BL_QQU_g,BL_QQU_s1,BL_QQU_s2]],
      [[BL_QUU_r,BL_QUU_g,BL_QUU_s1,BL_QUU_s2],[BL_TQU_r,BL_TQU_g,BL_TQU_s1,BL_TQU_s2],[BL_TQQ_r,BL_TQQ_g,BL_TQQ_s1,BL_TQQ_s2],[BL_TUU_r,BL_TUU_g,BL_TUU_s1,BL_TUU_s2]],
      [null,[BL_TTQ_r,BL_TTQ_g,BL_TTQ_s1,BL_TTQ_s2],[BL_TTU_r,BL_TTU_g,BL_TTU_s1,BL_TTU_s2],null]],
  BR:[[[BR_TTT_r,BR_TTT_g,BR_TTT_s1,BR_TTT_s2],[BR_QQQ_r,BR_QQQ_g,BR_QQQ_s1,BR_QQQ_s2],[BR_UUU_r,BR_UUU_g,BR_UUU_s1,BR_UUU_s2],[BR_QQU_r,BR_QQU_g,BR_QQU_s1,BR_QQU_s2]],
      [[BR_QUU_r,BR_QUU_g,BR_QUU_s1,BR_QUU_s2],[BR_TQU_r,BR_TQU_g,BR_TQU_s1,BR_TQU_s2],[BR_TQQ_r,BR_TQQ_g,BR_TQQ_s1,BR_TQQ_s2],[BR_TUU_r,BR_TUU_g,BR_TUU_s1,BR_TUU_s2]],
      [null,[BR_TTQ_r,BR_TTQ_g,BR_TTQ_s1,BR_TTQ_s2],[BR_TTU_r,BR_TTU_g,BR_TTU_s1,BR_TTU_s2],null]]
};
const smallX={L:[54,192,329,466],R:[658,796,934,1072]};
const smallY={M:[484,620,755],B:[936,1072,1208]};
['M','B'].forEach(sec=>{
  ['L','R'].forEach(side=>{
    const D=SMALLDATA[sec+side];
    for(let r=0;r<3;r++)for(let c=0;c<4;c++){
      const d=D[r][c]; if(!d) continue;
      const kind=(sec==='M'?midKinds:botKinds)[r][c];
      panel({name:(sec==='M'?'mid-':'bottom-')+side+'-'+smallTitles[r][c],x:smallX[side][c],y:smallY[sec][r],w:116,h:105,xd:[2,122],
        k:K[kind],th:thetaMid,thC:thetaMidC,r:d[0],gr:d[1],s1:d[2],s2:d[3],
        xt:[30,60,90,120],xm:[10,20,40,50,70,80,100,110],fs:12.5,tfs:16,title:smallTitles[r][c]});
    }
  });
});
</script>
</body></html>
